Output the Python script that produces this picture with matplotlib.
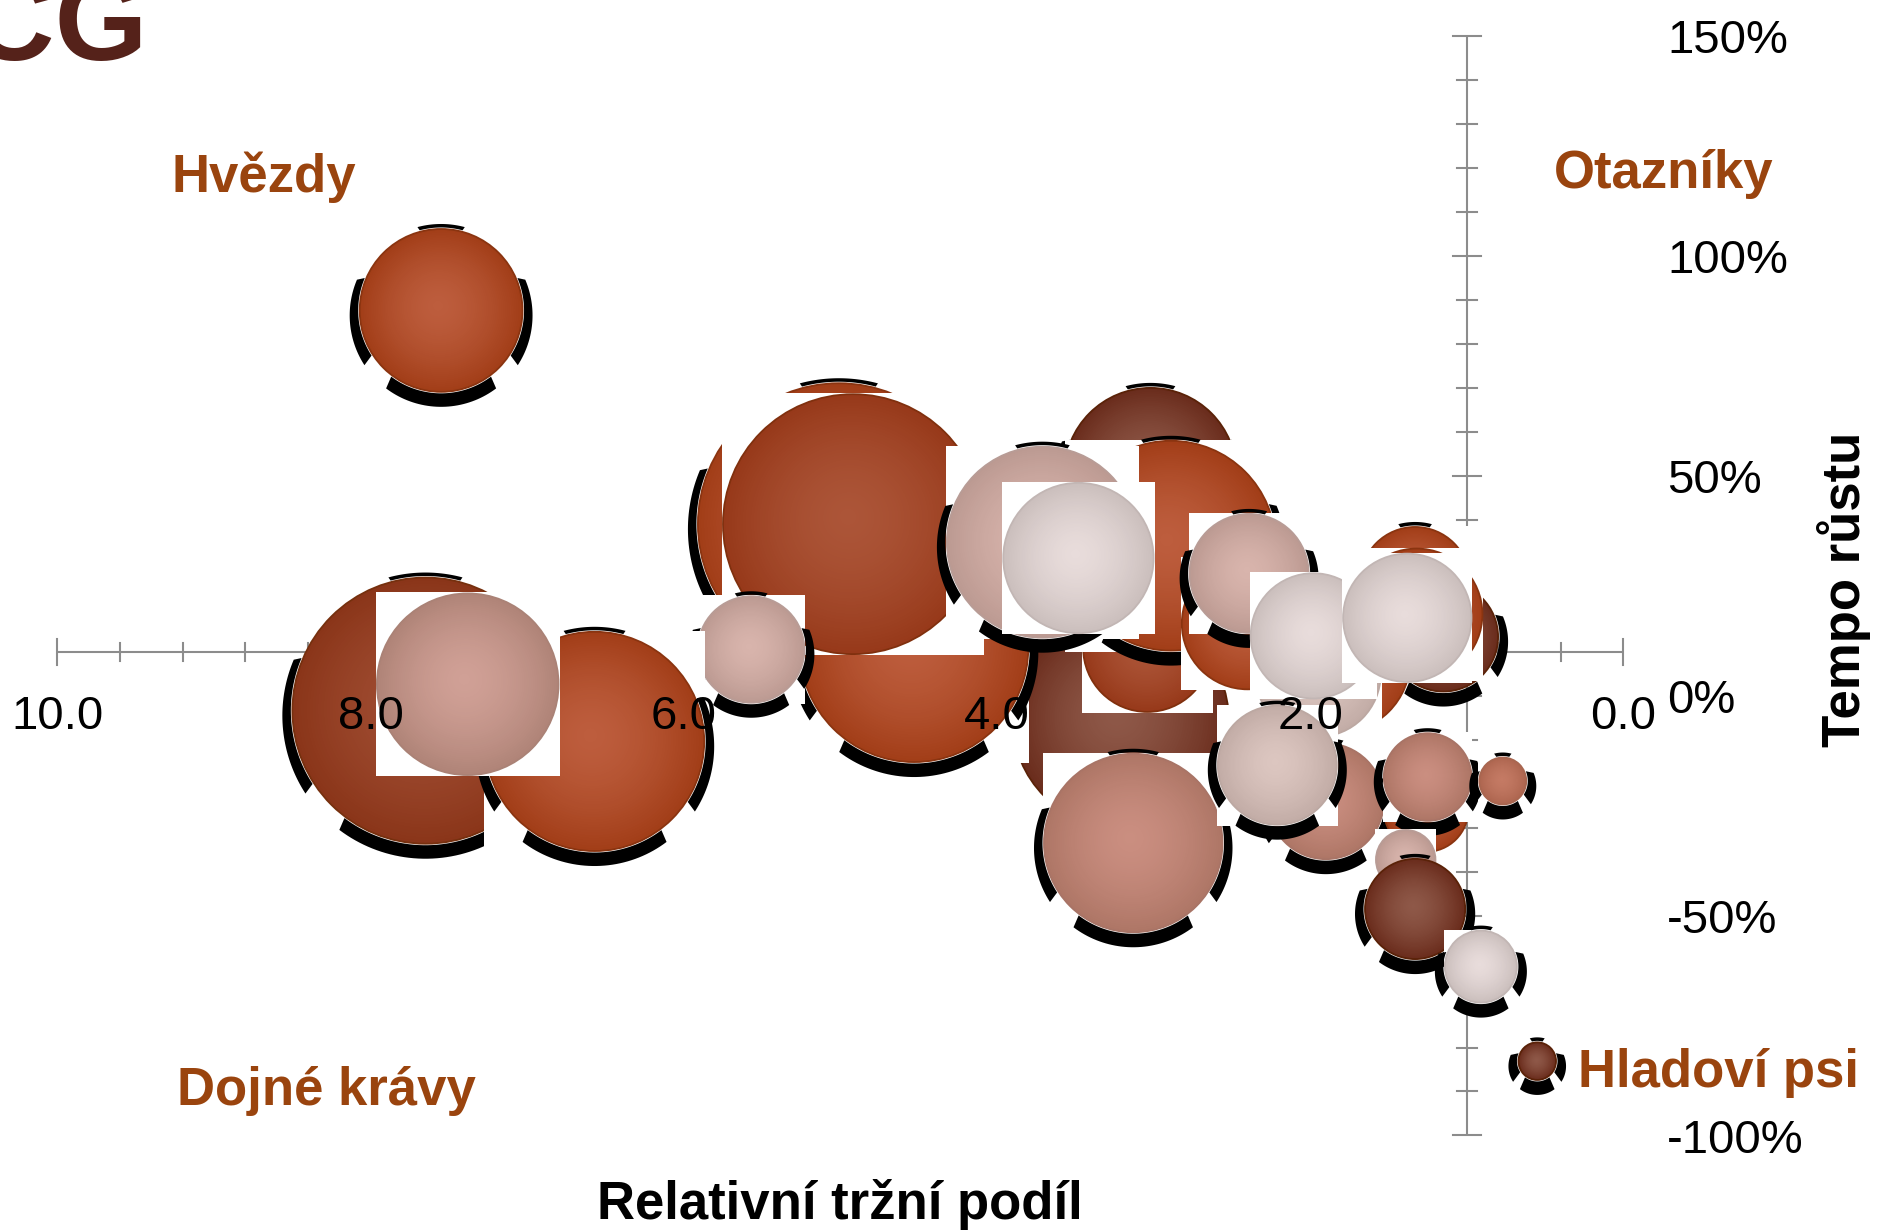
import numpy as np
import matplotlib
matplotlib.use("Agg")
import matplotlib.pyplot as plt
from matplotlib.patches import Circle, Rectangle, Polygon
from matplotlib.transforms import ScaledTranslation
from matplotlib.colors import to_rgb

plt.rcParams['font.family'] = ['Liberation Sans', 'DejaVu Sans']

# BCG matice: relativni trzni podil (x), tempo rustu v % (y),
# velikost = polomer bubliny v jednotkach podilu
podil = [7.55, 3.21, 5.01, 4.53, 4.92, 5.57, 7.65, 6.57, 7.38, 3.02, 3.04, 2.89,
         3.71, 3.48, 2.40, 2.39, 1.15, 1.33, 1.32, 1.83, 1.95, 1.98, 1.38, 3.13,
         1.90, 2.21, 1.26, 1.25, 0.77, 1.39, 1.33, 0.91, 0.55]
rust = [87.6, -5.5, 39.0, 10.9, 39.0, 10.5, -3.4, -10.4, 2.6, 50.4, 10.9, 34.1,
        34.9, 31.3, 16.4, 27.8, 13.4, 25.9, 18.5, 8.2, 4.9, 13.6, 17.7, -33.5,
        -24.0, -15.8, -25.9, -18.5, -19.4, -37.3, -48.5, -61.6, -83.1]
velikost = [0.52, 0.69, 0.90, 0.73, 0.83, 0.34, 0.85, 0.70, 0.58, 0.55, 0.41, 0.67,
            0.61, 0.48, 0.42, 0.38, 0.35, 0.35, 0.42, 0.47, 0.40, 0.40, 0.41, 0.57,
            0.37, 0.38, 0.27, 0.28, 0.15, 0.19, 0.32, 0.23, 0.12]
skupina = ['oranzova', 'hneda', 'oranzova', 'oranzova', 'oranzova2', 'pudrova',
           'tmava', 'oranzova', 'staroruzova', 'hneda', 'oranzova2', 'oranzova',
           'pudrova', 'bleda', 'oranzova', 'pudrova', 'hneda', 'oranzova',
           'oranzova', 'oranzova', 'bleda2', 'bleda', 'bleda', 'ruzova', 'ruzova',
           'bleda2', 'oranzova', 'ruzova', 'losos', 'pudrova', 'hneda', 'bleda', 'hneda']
stin = [1, 0, 1, 1, 0, 1, 1, 1, 0, 1, 0, 1, 1, 0, 0, 1, 1, 1, 0, 0, 0, 0, 0, 1,
        1, 1, 0, 1, 1, 0, 1, 1, 1]
ctverec = [0, 0, 0, 1, 1, 1, 0, 1, 1, 0, 1, 1, 1, 1, 1, 1, 0, 1, 1, 0, 1, 1, 1, 1,
           0, 1, 0, 1, 1, 1, 0, 1, 1]

x_popisky = [10.0, 8.0, 6.0, 4.0, 2.0, 0.0]
y_popisky = [150, 100, 50, 0, -50, -100]

# (stred, okraj, obrys)
palety = {
    'oranzova': ('#BD5D3D', '#A23E18', '#8A3410'),
    'oranzova2': ('#AC5538', '#97391A', '#80300E'),
    'tmava': ('#A04D32', '#8A3519', '#76300E'),
    'hneda': ('#8E5848', '#6A2C1C', '#5A2208'),
    'ruzova': ('#CA8E80', '#AE7666', '#A87466'),
    'losos': ('#C47A64', '#AE6650', '#A86650'),
    'staroruzova': ('#D0A096', '#B08478', '#AA8276'),
    'pudrova': ('#D8B4AC', '#BC9A92', '#B89C96'),
    'bleda': ('#E8DCDB', '#CBBFBD', '#C2B6B4'),
    'bleda2': ('#DCC6C0', '#C2ACA6', '#BCA8A2'),
}

PX_X = 156.59   # px na jednotku podilu
PX_Y = 4.398    # px na procento
X0, Y0 = 10.367, 158.18

fig = plt.figure(figsize=(18.8, 12.31), dpi=100)
ax = fig.add_axes([0, 0, 1, 1])
ax.set_xlim(X0, X0 - 1880 / PX_X)
ax.set_ylim(Y0 - 1231 / PX_Y, Y0)
ax.axis('off')


def x_px(px):
    return X0 - px / PX_X


def y_px(py):
    return Y0 - py / PX_Y


seda = '#8C8C8C'
# osy se protinaji v bode (1.0; 10 %)
ax.plot([10, 0], [10, 10], color=seda, lw=1.5, zorder=1, solid_capstyle='butt')
for v in np.arange(0, 10.001, 0.4):
    d = (13 if abs(v / 2 - round(v / 2)) < 1e-6 else 9) / PX_Y
    ax.plot([v, v], [10 - d, 10 + d], color=seda, lw=1.5, zorder=1)
ax.plot([1, 1], [-100, 150], color=seda, lw=1.5, zorder=1, solid_capstyle='butt')
for v in range(-100, 151, 10):
    d = (14 if v % 50 == 0 else 10) / PX_X
    ax.plot([1 - d, 1 + d], [v, v], color=seda, lw=1.5, zorder=1)


def bublina(x, y, r, paleta, se_stinem, s_ctvercem):
    tr = fig.dpi_scale_trans + ScaledTranslation(x, y, ax.transData)
    p = 1 / 100
    R = r * PX_X * p
    if s_ctvercem:
        ax.add_patch(Rectangle((-R - p, -R - p), 2 * R + 2 * p, 2 * R + 2 * p,
                               transform=tr, fc='white', ec='none', zorder=3))
    if se_stinem:
        Ro, Ri, d = R + 10 * p, R + 1.5 * p, 5 * p
        for a1, a2 in [(233, 307), (75, 105), (157, 213), (-33, 23)]:
            t = np.radians(np.linspace(a1, a2, 40))
            vnejsi = np.c_[Ro * np.cos(t), Ro * np.sin(t) - d]
            vnitrni = np.c_[Ri * np.cos(t[::-1]), Ri * np.sin(t[::-1])]
            ax.add_patch(Polygon(np.r_[vnejsi, vnitrni], closed=True, transform=tr,
                                 fc='black', ec='none', zorder=3))
    stred, okraj, obrys = palety[paleta]
    c0, c1 = np.array(to_rgb(stred)), np.array(to_rgb(okraj))
    n = 45
    for k in range(n):
        f = 1 - k / n
        w = f ** 1.6
        ax.add_patch(Circle((-0.04 * R * (1 - f), 0.06 * R * (1 - f)), f * R,
                            transform=tr, fc=c0 * (1 - w) + c1 * w, ec='none', zorder=3))
    ax.add_patch(Circle((0, 0), R, transform=tr, fill=False, ec=obrys, lw=1.3, zorder=3))


for i in range(len(podil)):
    bublina(podil[i], rust[i], velikost[i], skupina[i], stin[i], ctverec[i])

# popisky os
for v in x_popisky:
    ax.text(v, y_px(728.5), f'{v:.1f}', ha='center', va='baseline', fontsize=34, zorder=20)
for v in y_popisky:
    ax.text(x_px(1667), v - 17.5 / PX_Y, f'{v}%', ha='left', va='baseline', fontsize=34, zorder=20)

ax.text(x_px(840), y_px(1219), 'Relativní tržní podíl', ha='center', va='baseline',
        fontsize=38, fontweight='bold', zorder=20)
ax.text(x_px(1844), y_px(589), 'Tempo růstu', ha='center', va='center', rotation=90,
        fontsize=38, fontweight='bold', zorder=20)

hneda_text = '#9A440E'
ax.text(x_px(172), y_px(192), 'Hvězdy', ha='left', va='baseline', fontsize=38,
        fontweight='bold', color=hneda_text, zorder=20)
ax.text(x_px(1554), y_px(188), 'Otazníky', ha='left', va='baseline', fontsize=38,
        fontweight='bold', color=hneda_text, zorder=20)
ax.text(x_px(177), y_px(1105), 'Dojné krávy', ha='left', va='baseline', fontsize=38,
        fontweight='bold', color=hneda_text, zorder=20)
ax.text(x_px(1578), y_px(1087), 'Hladoví psi', ha='left', va='baseline', fontsize=38,
        fontweight='bold', color=hneda_text, zorder=20)

# nadpis je v predloze oriznuty levym okrajem
fig.text(147 / 1880, 1 - 60 / 1231, 'BCG', ha='right', va='baseline', fontsize=86,
         fontweight='bold', color='#55221A')

fig.savefig('out.png', dpi=100, facecolor='white')
